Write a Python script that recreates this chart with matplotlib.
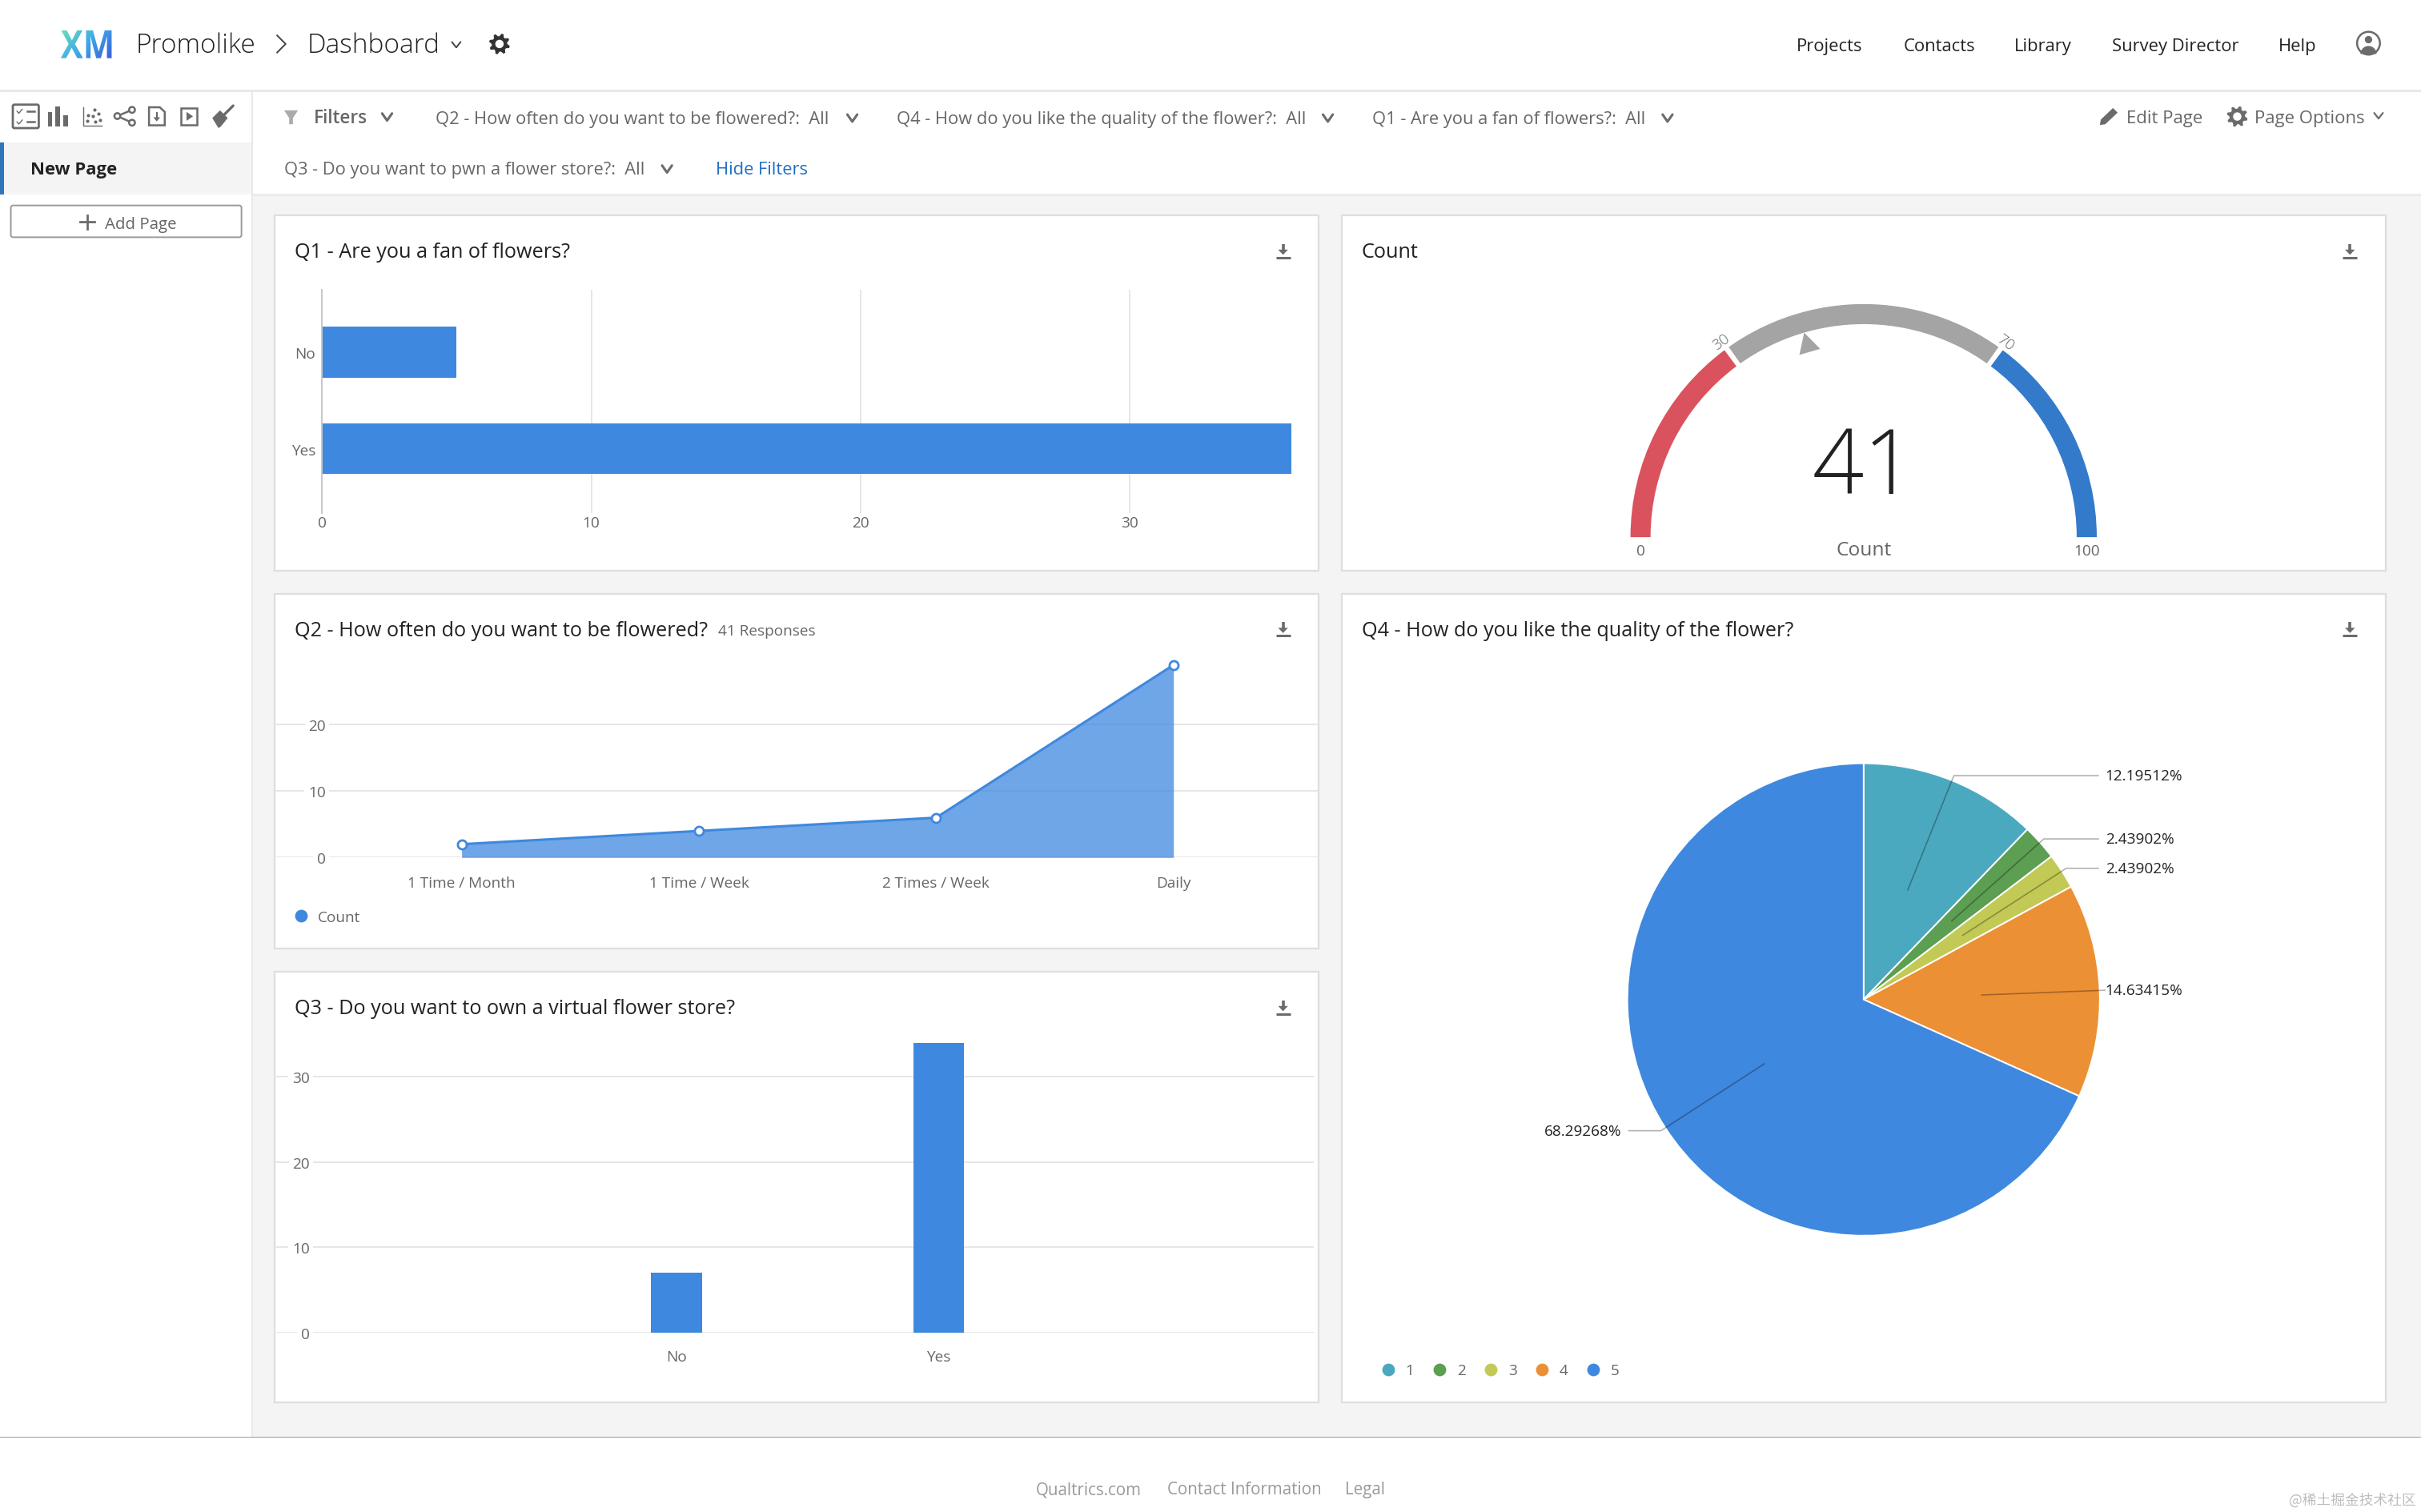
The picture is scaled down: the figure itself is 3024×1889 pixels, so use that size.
import numpy as np
import matplotlib
matplotlib.use('Agg')
import matplotlib.pyplot as plt
from matplotlib.font_manager import FontProperties
from matplotlib.patches import Circle, FancyBboxPatch, PathPatch, Polygon, Rectangle, Wedge
from matplotlib.textpath import TextPath
from matplotlib.transforms import Affine2D

plt.rcParams['font.family'] = ['Open Sans', 'DejaVu Sans']

# Chart data
q1_labels = ['No', 'Yes']
q1_values = [5, 36]
q1_ticks = [0, 10, 20, 30]

q2_labels = ['1 Time / Month', '1 Time / Week', '2 Times / Week', 'Daily']
q2_values = [2, 4, 6, 29]
q2_ticks = [0, 10, 20]

q3_labels = ['No', 'Yes']
q3_values = [7, 34]
q3_ticks = [0, 10, 20, 30]

q4_labels = ['1', '2', '3', '4', '5']
q4_values = [5, 1, 1, 6, 28]
q4_colors = ['#4BA9BF', '#5C9E52', '#C2C955', '#EC9035', '#3F88DF']

gauge_value = 41
gauge_bounds = [0, 30, 70, 100]
gauge_colors = ['#DA525D', '#A4A4A4', '#337ACB']

nav_items = [('Projects', 1185), ('Contacts', 1256), ('Library', 1323), ('Survey Director', 1409), ('Help', 1488)]
footer_items = [('Qualtrics.com', 671), ('Contact Information', 756), ('Legal', 871)]

BLUE = '#3F88DF'
GRID = '#E6E6E6'
TEXT = '#666666'
DARK = '#222222'
ICON = '#6B6B6B'
TICK_SIZE = 9.9
FILTER_SIZE = 11.35
TITLE_SIZE = 13.1

# The layout is worked out in pixels of a 1568 wide page
PAGE_W, PAGE_H = 1568, 980
PT = 3024 / PAGE_W / 200 * 72

fig = plt.figure(figsize=(15.12, 9.45), dpi=200, facecolor='white')

bg = fig.add_axes([0, 0, 1, 1], zorder=0)
bg.set_xlim(0, PAGE_W)
bg.set_ylim(PAGE_H, 0)
bg.axis('off')


def panel_axes(x0, y0, x1, y1):
	ax = fig.add_axes([x0 / PAGE_W, 1 - y1 / PAGE_H, (x1 - x0) / PAGE_W, (y1 - y0) / PAGE_H], zorder=2)
	ax.patch.set_alpha(0)
	for spine in ax.spines.values():
		spine.set_visible(False)
	return ax


def label(x, y, s, size=FILTER_SIZE, color=TEXT, ha='left', **kwargs):
	# va center counts the descenders, nudge so the capitals sit on y
	return bg.text(x, y + 0.8, s, fontsize=size * PT, color=color, ha=ha, va='center', **kwargs)


def rect(x0, y0, x1, y1, color, **kwargs):
	bg.add_patch(Rectangle((x0, y0), x1 - x0, y1 - y0, facecolor=color, edgecolor='none', **kwargs))


def chevron(x, y, w=3.2, h=2.3, color=ICON, lw=1.1):
	bg.plot([x - w, x, x + w], [y - h, y + h, y - h], color=color, lw=lw, solid_capstyle='round')


def gear(x, y, r, color=ICON):
	n = 8
	a = np.linspace(0, 2 * np.pi, n * 4, endpoint=False) + np.pi / 8 - np.pi / 16
	radii = np.tile([r, r, r * 0.74, r * 0.74], n)
	bg.add_patch(Polygon(np.c_[x + radii * np.cos(a), y + radii * np.sin(a)], facecolor=color, edgecolor='none'))
	bg.add_patch(Circle((x, y), r * 0.4, facecolor='white', edgecolor='none'))


def download_icon(x, y):
	bg.plot([x - 4.7, x + 4.7], [y + 4.3, y + 4.3], color=ICON, lw=1.1, solid_capstyle='butt')
	bg.plot([x, x], [y - 4.5, y], color=ICON, lw=1.3, solid_capstyle='butt')
	bg.add_patch(Polygon([[x - 3.2, y - 0.8], [x + 3.2, y - 0.8], [x, y + 2.6]], facecolor=ICON, edgecolor='none'))


# Page frame
rect(164, 60, PAGE_W, 931, '#F4F4F4')
rect(164, 60, PAGE_W, 126, 'white')
rect(164, 126, PAGE_W, 127.5, '#ECECEC')
rect(0, 58.8, PAGE_W, 60, '#E8E8E8')
rect(163, 60, 164, 931, '#E8E8E8')
rect(0, 931, PAGE_W, 932, '#9A9A9A')

# Header
logo_path = TextPath((0, 0), 'XM', size=10, prop=FontProperties(family='Open Sans', weight='bold'))
ext = logo_path.get_extents()
logo_tf = Affine2D().translate(-ext.x0, -ext.y0).scale(33 / ext.width, -18 / ext.height).translate(39.3, 38.2) + bg.transData
logo_patch = PathPatch(logo_path, transform=logo_tf, facecolor='none', edgecolor='none')
bg.add_patch(logo_patch)
gx, gy = np.meshgrid(np.linspace(0, 1, 60), np.linspace(0, 1, 30))
logo_cmap = matplotlib.colors.LinearSegmentedColormap.from_list('logo', ['#6FE0B8', '#3FA8E8', '#3B5BDB'])
logo_img = bg.imshow(0.65 * gx + 0.35 * gy, extent=(39, 73, 38.5, 20), cmap=logo_cmap, aspect='auto', zorder=3)
logo_img.set_clip_path(logo_patch)
bg.set_xlim(0, PAGE_W)
bg.set_ylim(PAGE_H, 0)

label(88, 29, 'Promolike', size=17.3, color=DARK, fontweight='light')
bg.plot([179.5, 185, 179.5], [23.5, 29, 34.5], color='#444444', lw=0.7)
label(199, 29, 'Dashboard', size=17.3, color=DARK, fontweight='light')
chevron(295.5, 29.5, w=2.8, h=1.8, color='#444444', lw=0.7)
gear(323.5, 29, 6.8, color='#333333')
for name, xc in nav_items:
	label(xc, 29.5, name, size=11.45, color=DARK, ha='center')
bg.add_patch(Circle((1534, 28.5), 7.4, facecolor='white', edgecolor=ICON, lw=0.9))
bg.add_patch(Circle((1534, 26.2), 2.4, facecolor=ICON, edgecolor='none'))
bg.add_patch(Wedge((1534, 35.5), 5.2, 180, 360, facecolor=ICON, edgecolor='none'))

# Sidebar icons
bg.add_patch(FancyBboxPatch((8.3, 68.3), 16.8, 15.2, boxstyle='round,pad=0,rounding_size=1', facecolor='white', edgecolor=ICON, lw=1.0))
for yc in [72.5, 79.5]:
	bg.plot([11, 12.2, 14.4], [yc, yc + 1.4, yc - 1.2], color=ICON, lw=0.5)
	bg.plot([17.5, 22.5], [yc, yc], color=ICON, lw=0.9)
for x0, x1, ytop in [(31.1, 33.7, 73), (36, 38.9, 69.5), (41.1, 44, 75)]:
	rect(x0, ytop, x1, 82.3, ICON)
bg.plot([54, 54, 66], [70, 82, 82], color=ICON, lw=0.5)
bg.plot([56.5, 61, 64, 60, 57, 61.5, 65], [79, 71.5, 74, 75.5, 75, 79.5, 78.5], ls='none', marker='o', ms=1.5, mfc=ICON, mew=0)
bg.plot([85.5, 76, 85.5], [71.7, 75.7, 80], color=ICON, lw=0.9)
for xc, yc in [(85.5, 71.7), (76, 75.7), (85.5, 80)]:
	bg.add_patch(Circle((xc, yc), 1.9, facecolor='white', edgecolor=ICON, lw=0.9, zorder=3))
bg.add_patch(Polygon([[96.5, 70], [103.5, 70], [106.7, 73], [106.7, 81.7], [96.5, 81.7]], facecolor='white', edgecolor=ICON, lw=0.9))
bg.plot([101.5, 101.5], [73.5, 77], color=ICON, lw=0.8)
bg.add_patch(Polygon([[99.3, 76.5], [103.7, 76.5], [101.5, 79.2]], facecolor=ICON, edgecolor='none'))
bg.add_patch(Rectangle((117.2, 70.6), 10.6, 10.6, facecolor='white', edgecolor=ICON, lw=0.9))
bg.add_patch(Polygon([[120.8, 73], [120.8, 78.8], [125, 75.9]], facecolor=ICON, edgecolor='none'))
bg.add_patch(Polygon([[137.5, 77], [142.5, 72], [147.5, 77], [143, 82.5], [141.5, 83.5]], facecolor=ICON, edgecolor='none'))
bg.plot([145.2, 151], [74.8, 69], color=ICON, lw=1.2, solid_capstyle='round')

# Sidebar page list
rect(0, 93, 163, 126.6, '#F4F4F4')
rect(0, 93, 2.4, 126.6, '#2F76BB')
label(19.8, 109.3, 'New Page', size=11.5, color=DARK, fontweight='bold')
bg.add_patch(FancyBboxPatch((7, 133.6), 149.4, 20.6, boxstyle='round,pad=0,rounding_size=1.5', facecolor='white', edgecolor='#999999', lw=0.7))
bg.plot([52, 61], [144.4, 144.4], color=ICON, lw=1.0)
bg.plot([56.5, 56.5], [139.9, 148.9], color=ICON, lw=1.0)
label(68, 144.8, 'Add Page', size=10.6)

# Filter bar
bg.add_patch(Polygon([[184, 72], [193, 72], [189.7, 77], [189.7, 81], [187.3, 81], [187.3, 77]], facecolor='#ABABAB', edgecolor='none'))
label(203, 75.8, 'Filters', size=11.7, fontweight='semibold')
chevron(250.7, 76.3)
label(282, 76.5, 'Q2 - How often do you want to be flowered?:  All')
chevron(552, 77)
label(580.5, 76.5, 'Q4 - How do you like the quality of the flower?:  All')
chevron(860, 77)
label(889, 76.5, 'Q1 - Are you a fan of flowers?:  All')
chevron(1080, 77)
label(184, 109.5, 'Q3 - Do you want to pwn a flower store?:  All')
chevron(432, 110)
label(463.5, 109.5, 'Hide Filters', color='#1E6FC4')
bg.add_patch(Polygon([[1360, 81.5], [1360.6, 78], [1368.5, 70.5], [1371.5, 73.5], [1363.5, 81]], facecolor=ICON, edgecolor='none'))
label(1377, 76, 'Edit Page', size=11.5)
gear(1449, 76, 6.8)
label(1460, 76, 'Page Options', size=11.5)
chevron(1540.5, 75.5, w=2.8, h=1.8, lw=0.8)

# Cards
cards = [(178, 140, 854, 370), (869, 140, 1545, 370), (178, 385, 854, 615), (178, 630, 854, 909), (869, 385, 1545, 909)]
for x0, y0, x1, y1 in cards:
	bg.add_patch(Rectangle((x0, y0), x1 - x0, y1 - y0, facecolor='white', edgecolor='#DEDEDE', lw=0.8))
label(191, 163, 'Q1 - Are you a fan of flowers?', size=TITLE_SIZE, color=DARK)
label(882, 163, 'Count', size=TITLE_SIZE, color=DARK)
label(191, 408, 'Q2 - How often do you want to be flowered?', size=TITLE_SIZE, color=DARK)
label(465, 408.3, '41 Responses', size=9.9)
label(882, 408, 'Q4 - How do you like the quality of the flower?', size=TITLE_SIZE, color=DARK)
label(191, 653, 'Q3 - Do you want to own a virtual flower store?', size=TITLE_SIZE, color=DARK)
for x, y in [(831, 163), (1522, 163), (831, 408), (1522, 408), (831, 653)]:
	download_icon(x, y)

# Q1, horizontal bars
ax1 = panel_axes(208.6, 188, 854, 333)
ax1.barh(range(len(q1_values)), q1_values, height=0.526, color=BLUE)
ax1.set_xlim(0, (854 - 208.6) / 17.44)
ax1.set_ylim((333 - 228.6) / 62.6, (188 - 228.6) / 62.6)
ax1.set_xticks(q1_ticks)
ax1.set_yticks(range(len(q1_labels)), q1_labels)
ax1.set_axisbelow(True)
ax1.grid(axis='x', color=GRID, lw=0.7)
ax1.spines['left'].set_visible(True)
ax1.spines['left'].set_color('#C8C8C8')
ax1.spines['left'].set_linewidth(0.7)
ax1.tick_params(axis='x', length=0, pad=1, labelsize=TICK_SIZE * PT, labelcolor=TEXT)
ax1.tick_params(axis='y', length=0, pad=3, labelsize=TICK_SIZE * PT, labelcolor=TEXT)

# Q2, area with markers
ax2 = panel_axes(178, 425, 854, 556)
q2_x = np.arange(len(q2_values))
ax2.fill_between(q2_x, q2_values, 0, color=BLUE, alpha=0.75, lw=0)
ax2.plot(q2_x, q2_values, color=BLUE, lw=1.1, marker='o', ms=4, mfc='white', mec=BLUE, mew=1.0, clip_on=False)
ax2.set_xlim((178 - 299) / 153.67, (854 - 299) / 153.67)
ax2.set_ylim(0, 131 / 4.3)
ax2.set_xticks(q2_x, q2_labels)
ax2.set_yticks(q2_ticks)
ax2.set_axisbelow(True)
ax2.grid(axis='y', color=GRID, lw=0.7)
ax2.grid(axis='x', visible=False)
ax2.tick_params(axis='x', length=0, pad=8, labelsize=TICK_SIZE * PT, labelcolor=TEXT)
ax2.tick_params(axis='y', length=0, pad=-22.8, labelsize=TICK_SIZE * PT, labelcolor=TEXT)
for tick_label in ax2.get_yticklabels():
	tick_label.set_bbox(dict(facecolor='white', edgecolor='none', pad=1.6))
bg.plot([195], [593.7], marker='o', ms=5.7, color=BLUE, mew=0)
label(205.8, 594, 'Count', size=TICK_SIZE)

# Q3, vertical bars
ax3 = panel_axes(178, 670, 851, 863.6)
ax3.bar(range(len(q3_values)), q3_values, width=33 / 170, color=BLUE)
ax3.set_xlim((178 - 438) / 170, (851 - 438) / 170)
ax3.set_ylim(0, 193.6 / 5.52)
ax3.set_xticks(range(len(q3_labels)), q3_labels)
ax3.set_yticks(q3_ticks)
ax3.set_axisbelow(True)
ax3.grid(axis='y', color=GRID, lw=0.7)
ax3.grid(axis='x', visible=False)
ax3.tick_params(axis='x', length=0, pad=7.8, labelsize=TICK_SIZE * PT, labelcolor=TEXT)
ax3.tick_params(axis='y', length=0, pad=-15.6, labelsize=TICK_SIZE * PT, labelcolor=TEXT)
for tick_label in ax3.get_yticklabels():
	tick_label.set_bbox(dict(facecolor='white', edgecolor='none', pad=1.6))

# Count gauge, one axes unit is one page pixel
gauge_ax = panel_axes(1040, 185, 1374, 365)
gauge_ax.set_xlim(-167, 167)
gauge_ax.set_ylim(-16.5, 163.5)
gauge_ax.axis('off')


def gauge_angle(v):
	return 180 * (1 - v / gauge_bounds[-1])


def gauge_point(v, r):
	a = np.radians(gauge_angle(v))
	return r * np.cos(a), r * np.sin(a)


gauge_r, gauge_w = 151, 13
for i, color in enumerate(gauge_colors):
	hi = gauge_angle(gauge_bounds[i]) - (0.65 if i > 0 else 0)
	lo = gauge_angle(gauge_bounds[i + 1]) + (0.65 if i < len(gauge_colors) - 1 else 0)
	gauge_ax.add_patch(Wedge((0, 0), gauge_r, lo, hi, width=gauge_w, facecolor=color, edgecolor='none'))
tip_x, tip_y = gauge_point(gauge_value, gauge_r - gauge_w)
a = np.radians(gauge_angle(gauge_value))
base_x, base_y = tip_x - 13 * np.cos(a), tip_y - 13 * np.sin(a)
gauge_ax.add_patch(Polygon([[tip_x, tip_y], [base_x + 7 * np.sin(a), base_y - 7 * np.cos(a)], [base_x - 7 * np.sin(a), base_y + 7 * np.cos(a)]], facecolor='#A4A4A4', edgecolor='none'))
for v in gauge_bounds[1:-1]:
	x, y = gauge_point(v, 156.5)
	gauge_ax.text(x, y, str(v), fontsize=TICK_SIZE * PT, color=TEXT, ha='center', va='center', rotation=gauge_angle(v) - 90, fontweight='light')
for v in [gauge_bounds[0], gauge_bounds[-1]]:
	x, y = gauge_point(v, 144.5)
	gauge_ax.text(x, y - 9, str(v), fontsize=TICK_SIZE * PT, color=TEXT, ha='center', va='center')
gauge_ax.text(0, 43.5, str(gauge_value), fontsize=58.5 * PT, color=DARK, ha='center', va='center', fontweight='light')
gauge_ax.text(0, -8.2, 'Count', fontsize=12.7 * PT, color=TEXT, ha='center', va='center')

# Q4 pie, one axes unit is one page pixel
pie_ax = panel_axes(1007, 448, 1407, 848)
pie_r = 153
pie_ax.pie(q4_values, colors=q4_colors, startangle=90, counterclock=False, radius=pie_r, wedgeprops=dict(edgecolor='white', linewidth=0.7))
pie_ax.set_xlim(-200, 200)
pie_ax.set_ylim(-200, 200)
pie_ax.set_aspect('equal')

q4_total = sum(q4_values)
running = 0
for value in q4_values:
	mid = 2 * np.pi * (running + value / 2) / q4_total
	running += value
	sx, cy = np.sin(mid), np.cos(mid)
	elbow_x, elbow_y = 1.022 * pie_r * sx, 1.022 * pie_r * cy
	side = 1 if sx > 0 else -1
	end_x = side * max(152, abs(elbow_x))
	pie_ax.plot([0.5 * pie_r * sx, elbow_x, end_x], [0.5 * pie_r * cy, elbow_y, elbow_y], color='black', alpha=0.3, lw=0.6, clip_on=False)
	pie_ax.text(side * 156.6, elbow_y, f'{value / q4_total * 100:.5f}%', fontsize=9.9 * PT, color=DARK, ha='left' if side > 0 else 'right', va='center')

for i, (name, color) in enumerate(zip(q4_labels, q4_colors)):
	x = 899 + 33.2 * i
	bg.plot([x], [887.5], marker='o', ms=5.7, color=color, mew=0)
	label(x + 11.4, 887.6, name, size=TICK_SIZE)

# Footer
for name, x in footer_items:
	label(x, 964.5, name, size=10.65, color='#999999')
bg.text(1565, 972, '@稀土掘金技术社区', fontsize=9.2 * PT, color='#BDBDBD', ha='right', va='center', family=['Noto Sans CJK SC', 'DejaVu Sans'])

fig.savefig('out.png', dpi=200)
